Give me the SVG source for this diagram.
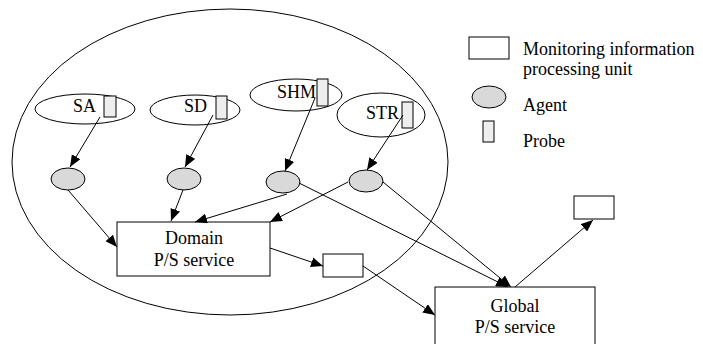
<svg xmlns="http://www.w3.org/2000/svg" width="703" height="344" viewBox="0 0 703 344">
<style>
text{font-family:"Liberation Serif","Times New Roman",serif;font-size:18px;fill:#000}
.o{fill:none;stroke:#000;stroke-width:1}
.box{fill:#fff;stroke:#000;stroke-width:1}
.agent{fill:#d9d9d9;stroke:#000;stroke-width:1}
.probe{fill:#eeeeee;stroke:#000;stroke-width:1}
.c{fill:none;stroke:#000;stroke-width:1;marker-end:url(#ah)}
.m{text-anchor:middle}
</style>
<defs>
<marker id="ah" viewBox="0 0 12 10" refX="12" refY="5" markerWidth="12" markerHeight="10" markerUnits="userSpaceOnUse" orient="auto">
<path d="M0,0 L12,5 L0,10 z" fill="#000"/>
</marker>
</defs>
<rect width="703" height="344" fill="#fff"/>
<g id="domain-region"><ellipse class="o" cx="230" cy="162" rx="218" ry="153"/></g>
<g id="SA"><ellipse class="o" cx="85" cy="109" rx="50" ry="15"/><text x="73" y="112">SA</text><rect class="probe" x="104" y="96" width="12" height="21"/></g>
<g id="SD"><ellipse class="o" cx="195" cy="110" rx="45" ry="15"/><text x="184" y="112">SD</text><rect class="probe" x="216" y="96" width="11" height="23"/></g>
<g id="SHM"><ellipse class="o" cx="296" cy="95" rx="46" ry="16"/><text x="277" y="98">SHM</text><rect class="probe" x="317" y="79" width="11" height="27"/></g>
<g id="STR"><ellipse class="o" cx="381" cy="115" rx="44" ry="22"/><text x="366" y="119">STR</text><rect class="probe" x="402" y="102" width="11" height="26"/></g>
<g id="agent1"><ellipse class="agent" cx="68" cy="179" rx="17" ry="11"/></g>
<g id="agent2"><ellipse class="agent" cx="184" cy="179" rx="17" ry="11"/></g>
<g id="agent3"><ellipse class="agent" cx="283" cy="182" rx="17" ry="11"/></g>
<g id="agent4"><ellipse class="agent" cx="366" cy="181" rx="17" ry="11"/></g>
<g id="domain-ps"><rect class="box" x="117" y="222" width="153" height="54"/><text class="m" x="194" y="244">Domain</text><text class="m" x="194" y="266">P/S service</text></g>
<g id="domain-unit"><rect class="box" x="323" y="254" width="40" height="23"/></g>
<g id="global-ps"><rect class="box" x="435" y="287" width="160" height="70"/><text class="m" x="515" y="312">Global</text><text class="m" x="515" y="333">P/S service</text></g>
<g id="global-unit"><rect class="box" x="574" y="196" width="40" height="23"/></g>
<g id="connectors">
<line class="c" x1="100" y1="117" x2="70" y2="167"/>
<line class="c" x1="213" y1="115" x2="185" y2="167"/>
<line class="c" x1="315" y1="98" x2="285" y2="171"/>
<line class="c" x1="403" y1="115" x2="367" y2="170"/>
<line class="c" x1="68" y1="190" x2="117" y2="247"/>
<line class="c" x1="183" y1="190" x2="171" y2="221"/>
<line class="c" x1="287" y1="194" x2="195" y2="222"/>
<line class="c" x1="348" y1="182" x2="270" y2="222"/>
<line class="c" x1="299" y1="183" x2="508" y2="287"/>
<line class="c" x1="383" y1="182" x2="511" y2="287"/>
<line class="c" x1="270" y1="248" x2="323" y2="266"/>
<line class="c" x1="363" y1="266" x2="435" y2="315"/>
<line class="c" x1="515" y1="287" x2="593" y2="220"/>
</g>
<g id="legend">
<rect class="box" x="469" y="37" width="40" height="22"/>
<text x="523" y="55">Monitoring information</text>
<text x="523" y="75">processing unit</text>
<ellipse class="agent" cx="489" cy="97" rx="17" ry="11"/>
<text x="523" y="111">Agent</text>
<rect class="probe" x="483" y="121" width="11" height="21"/>
<text x="523" y="147">Probe</text>
</g>
</svg>
